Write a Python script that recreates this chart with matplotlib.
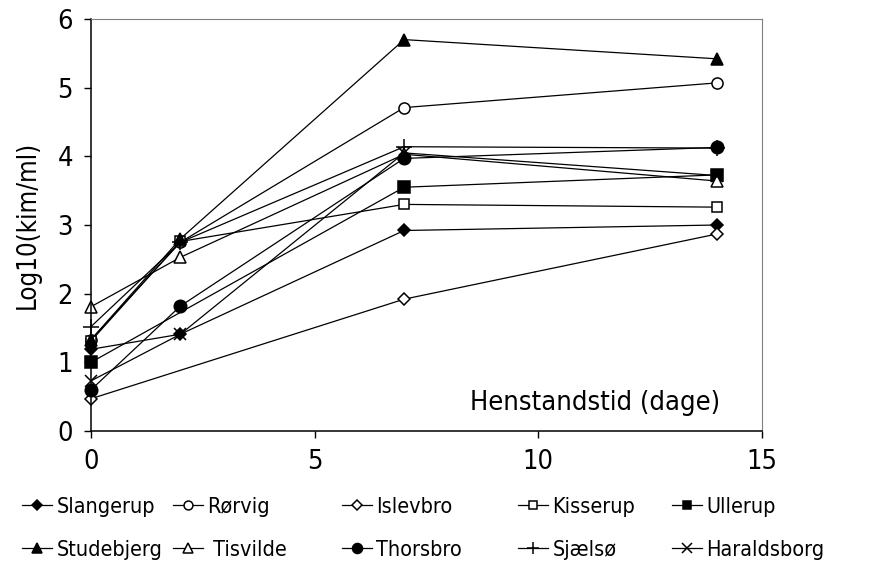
import matplotlib
matplotlib.use("Agg")
import matplotlib.pyplot as plt
import numpy as np

plt.rcParams['font.family'] = ['DejaVu Sans']
plt.rcParams['font.stretch'] = 'condensed'

# days (henstandstid)
days = [0, 2, 7, 14]

# log10(kim/ml) per location, nan where no measurement
slangerup = [1.19, 1.41, 2.92, 3.00]
rorvig = [1.33, 2.75, 4.71, 5.07]
islevbro = [0.47, np.nan, 1.92, 2.87]
kisserup = [1.31, 2.76, 3.30, 3.26]
ullerup = [1.00, np.nan, 3.55, 3.73]
studebjerg = [1.33, 2.80, 5.70, 5.42]
tisvilde = [1.81, 2.53, 4.03, 3.64]
thorsbro = [0.60, 1.82, 3.97, 4.13]
sjaelso = [1.52, 2.75, 4.14, 4.12]
haraldsborg = [0.73, 1.41, 4.05, 3.72]

names = ['Slangerup', 'Rørvig', 'Islevbro', 'Kisserup', 'Ullerup',
         'Studebjerg', ' Tisvilde', 'Thorsbro', 'Sjælsø', 'Haraldsborg']
series = [slangerup, rorvig, islevbro, kisserup, ullerup,
          studebjerg, tisvilde, thorsbro, sjaelso, haraldsborg]
styles = [('D', 'black', 6.5), ('o', 'white', 8), ('D', 'white', 6.5), ('s', 'white', 7.5),
          ('s', 'black', 8), ('^', 'black', 8.5), ('^', 'white', 8.5), ('o', 'black', 9),
          ('+', 'black', 11), ('x', 'black', 9)]

W, H = 873, 563
fig = plt.figure(figsize=(W / 100, H / 100), dpi=100)
ax = fig.add_axes([91 / W, 1 - 431 / H, (762 - 91) / W, (431 - 19) / H])

lines = []
for name, vals, (m, fc, ms) in zip(names, series, styles):
    v = np.array(vals, dtype=float)
    ok = ~np.isnan(v)
    ln, = ax.plot(np.array(days)[ok], v[ok], color='black', lw=0.9,
                  marker=m, markerfacecolor=fc, markeredgecolor='black',
                  markersize=ms, markeredgewidth=1.1, label=name, clip_on=False)
    lines.append(ln)

ax.set_xlim(0, 15)
ax.set_ylim(0, 6)
ax.set_xticks([0, 5, 10, 15])
ax.set_yticks(range(7))
ax.tick_params(labelsize=19.5, direction='out', length=5, width=1, pad=8)
for s in ['top', 'right']:
    ax.spines[s].set_color('#808080')
ax.spines['left'].set_linewidth(1.1)
ax.spines['bottom'].set_linewidth(1.1)

ax.set_ylabel('Log10(kim/ml)', fontsize=18.5, labelpad=12)
ax.text(14.06, 0.3, 'Henstandstid (dage)', fontsize=19.5, ha='right', va='baseline')

# legend: one small legend per column, two rows
col_x = [22, 173, 342, 518, 672]
for i, x in enumerate(col_x):
    leg = fig.legend([lines[i], lines[i + 5]], [names[i], names[i + 5]],
                     loc='upper left', bbox_to_anchor=(x / W, 1 - 497 / H),
                     frameon=False, fontsize=15.5, handlelength=1.4, handletextpad=0.2,
                     labelspacing=1.05, borderaxespad=0, borderpad=0, markerscale=0.8)

fig.savefig('out.png', dpi=100)
